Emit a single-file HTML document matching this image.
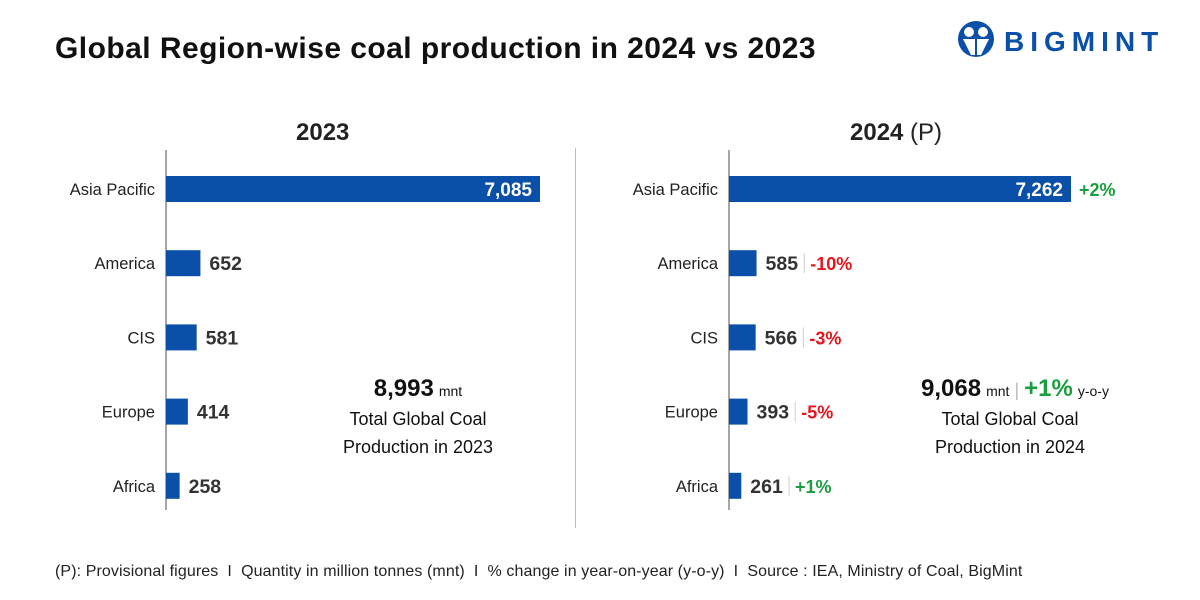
<!DOCTYPE html>
<html><head><meta charset="utf-8"><style>
body{margin:0;width:1200px;height:600px;background:#fff;font-family:"Liberation Sans",sans-serif;overflow:hidden;position:relative}
.t{position:absolute;white-space:nowrap}
</style></head><body>
<div class="t" style="left:55px;top:32px;font-size:30px;letter-spacing:0.45px;font-weight:bold;color:#111">Global Region-wise coal production in 2024 vs 2023</div>
<div style="position:absolute;left:956px;top:20px">
<svg width="220" height="40"><circle cx="20" cy="19" r="18" fill="#0a4fa8"/><circle cx="13" cy="12" r="5" fill="#fff"/><circle cx="27" cy="12" r="5" fill="#fff"/><path d="M7 19h12v16h-4zM21 19h12l-8 16h-4z" fill="#fff"/>
<text x="48" y="31" font-size="28" font-weight="bold" fill="#0a4fa8" letter-spacing="6" font-family="Liberation Sans,sans-serif">BIGMINT</text></svg></div>
<div class="t" style="left:296px;top:119px;font-size:24px;font-weight:bold;color:#222">2023</div>
<div class="t" style="left:850px;top:119px;font-size:24px;color:#222"><b>2024</b> (P)</div>
<div style="position:absolute;left:575px;top:148px;width:1px;height:380px;background:#bbb"></div>
<svg id="c" width="1200" height="600" style="position:absolute;left:0;top:0"></svg>
<div class="t" style="left:320px;top:375px;width:196px;text-align:center;font-size:18px;color:#111;line-height:28px"><span style="font-size:24px;font-weight:bold">8,993</span> <span style="font-size:14px">mnt</span><br>Total Global Coal<br>Production in 2023</div>
<div class="t" style="left:905px;top:375px;width:220px;text-align:center;font-size:18px;color:#111;line-height:28px"><span style="font-size:24px;font-weight:bold">9,068</span> <span style="font-size:14px">mnt</span> <span style="color:#bbb">|</span> <span style="font-size:24px;font-weight:bold;color:#1a9e3f">+1%</span> <span style="font-size:14px">y-o-y</span><br><span style="margin-left:-10px">Total Global Coal</span><br><span style="margin-left:-10px">Production in 2024</span></div>
<div class="t" style="left:55px;top:563px;font-size:16px;letter-spacing:0.1px;color:#222">(P): Provisional figures &nbsp;I&nbsp; Quantity in million tonnes (mnt) &nbsp;I&nbsp; % change in year-on-year (y-o-y) &nbsp;I&nbsp; Source : IEA, Ministry of Coal, BigMint</div>
<script>
const regions=["Asia Pacific","America","CIS","Europe","Africa"];
const values2023=[7085,652,581,414,258];
const values2024=[7262,585,566,393,261];
const change2024=["+2%","-10%","-3%","-5%","+1%"];
const svg=document.getElementById('c');const NS="http://www.w3.org/2000/svg";
function mk(t,a){const e=document.createElementNS(NS,t);for(const k in a)e.setAttribute(k,a[k]);svg.appendChild(e);return e;}
function y(i){return 189+i*74.2;}
function panel(x0,scale,vals,chg,tag){
 const ax=mk('line',{x1:x0,x2:x0,y1:150,y2:510,stroke:'#888','stroke-width':1.5});
 
 vals.forEach((v,i)=>{
  const w=v*scale,cy=y(i);
  const l=mk('text',{x:x0-11,y:cy+6,'text-anchor':'end','font-size':16.5,fill:'#222'});l.textContent=regions[i];
  
  const r=mk('rect',{x:x0,y:cy-13,width:w,height:26,fill:'#0a4fa8'});
  
  const s=v.toLocaleString('en-US');let ex;
  if(w>100){const t=mk('text',{x:x0+w-8,y:cy+7,'text-anchor':'end','font-size':19,'font-weight':'bold',fill:'#fff'});t.textContent=s;ex=x0+w+8;
   }
  else{const t=mk('text',{x:x0+w+9,y:cy+7,'font-size':19.5,'font-weight':'bold',fill:'#333'});t.textContent=s;ex=x0+w+9+s.length*10.9+8;
   
   if(chg){mk('line',{x1:ex-2,x2:ex-2,y1:cy-10,y2:cy+10,stroke:'#ccc'});ex+=4;}}
  if(chg){const p=mk('text',{x:ex,y:cy+7,'font-size':18,'font-weight':'bold',fill:chg[i][0]=='+'?'#1a9e3f':'#e8141b'});p.textContent=chg[i];
   }
 });
}
panel(166,374/7085,values2023,null,'chart-2023');
panel(729,342/7262,values2024,change2024,'chart-2024');
</script>
</body></html>
